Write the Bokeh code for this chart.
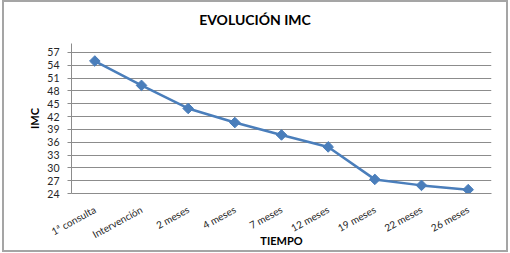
import math
from bokeh.plotting import figure
from bokeh.layouts import column
from bokeh.models import FixedTicker, Range1d, Div
from bokeh.embed import file_html
from bokeh.resources import INLINE

categories = ["1ª consulta", "Intervención", "2 meses", "4 meses", "7 meses",
              "12 meses", "19 meses", "22 meses", "26 meses"]
imc = [55.0, 49.3, 43.9, 40.6, 37.7, 34.9, 27.3, 25.9, 24.9]
y_ticks = [24, 27, 30, 33, 36, 39, 42, 45, 48, 51, 54, 57]
title_text = "EVOLUCIÓN IMC"

FONT = "Lato"
BLUE = "#4a7ebb"

title = Div(text=title_text, width=502, height=36, margin=(0, 0, 0, 0),
            styles={"font-family": FONT, "font-size": "14px", "font-weight": "bold",
                    "color": "#000000", "text-align": "center", "line-height": "36px",
                    "width": "502px"})

p = figure(x_range=categories, y_range=Range1d(24, 59.1),
           width=502, height=212, output_backend="svg", toolbar_location=None,
           min_border_left=67, min_border_right=15, min_border_top=5,
           min_border_bottom=55, margin=(0, 0, 0, 0))
p.x_range.range_padding = 0

p.line(categories, imc, line_color=BLUE, line_width=2.5)
p.scatter(categories, imc, marker="square", size=7.5, angle=math.pi / 4,
          fill_color=BLUE, line_color=BLUE)

p.outline_line_color = None
p.xgrid.grid_line_color = None
p.ygrid.grid_line_color = "#8c8c8c"
p.ygrid.grid_line_width = 1

p.yaxis.ticker = FixedTicker(ticks=y_ticks)
p.yaxis.axis_line_color = "#8c8c8c"
p.yaxis.major_tick_line_color = "#8c8c8c"
p.yaxis.major_tick_out = 4
p.yaxis.major_tick_in = 0
p.yaxis.minor_tick_line_color = None
p.yaxis.major_label_standoff = 8
p.yaxis.axis_label = "IMC"
p.yaxis.axis_label_standoff = 3

p.xaxis.axis_line_color = "#8c8c8c"
p.xaxis.major_tick_line_color = None
p.xaxis.minor_tick_line_color = None
p.xaxis.major_label_orientation = 0.5
p.xaxis.major_label_standoff = 9
p.xaxis.axis_label = "TIEMPO"
p.xaxis.axis_label_standoff = -14

for ax in (p.xaxis[0], p.yaxis[0]):
    ax.major_label_text_font = FONT
    ax.major_label_text_font_size = "10.5px"
    ax.major_label_text_color = "#262626"
    ax.axis_label_text_font = FONT
    ax.axis_label_text_font_size = "11px"
    ax.axis_label_text_font_style = "bold"
    ax.axis_label_text_color = "#000000"
p.xaxis.major_label_text_font_size = "10px"

layout = column(title, p, spacing=0,
                styles={"border": "2px solid #a5a5a5", "margin-left": "2px",
                        "background-color": "#ffffff"})

open("out.html", "w").write(file_html(layout, INLINE))
